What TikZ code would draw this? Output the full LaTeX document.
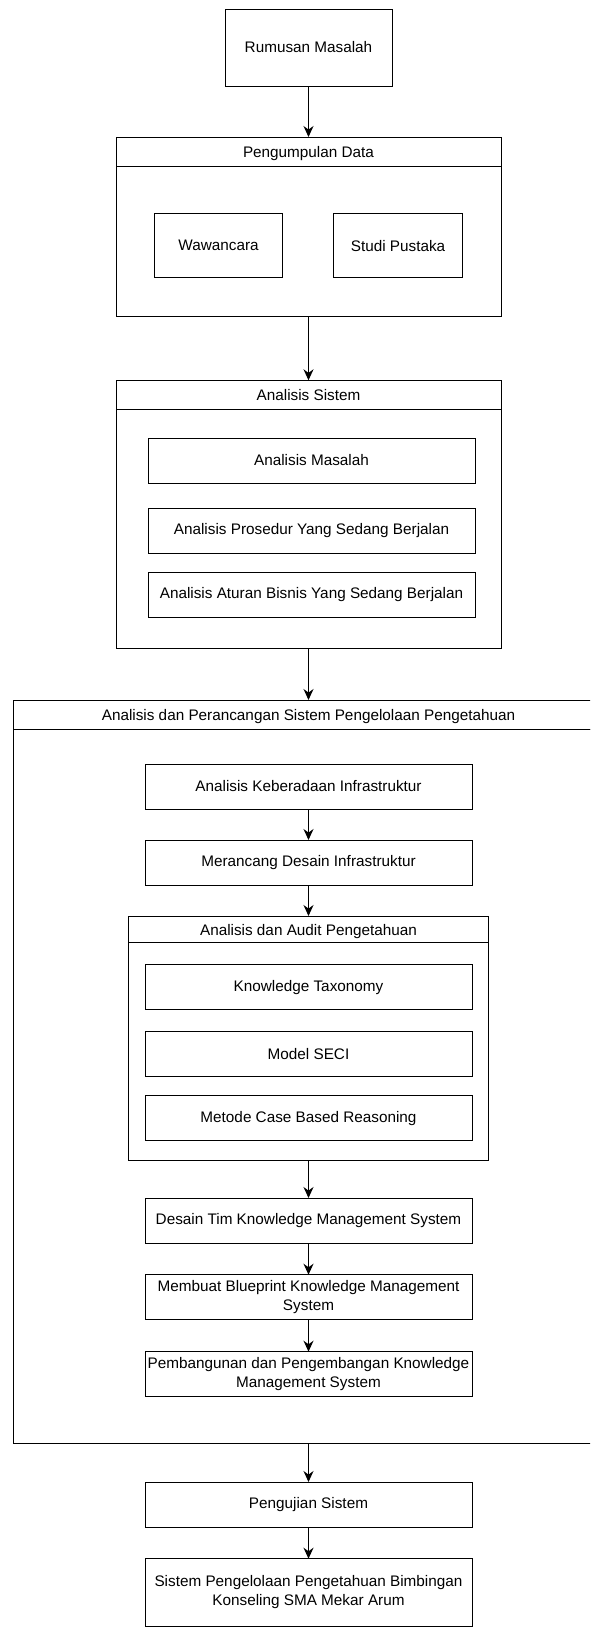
\documentclass[tikz,border=0pt]{standalone}
\usepackage{fontspec}
\setmainfont{Liberation Sans}
\usetikzlibrary{arrows.meta,positioning}

\begin{document}
\begin{tikzpicture}[x=1pt,y=1pt,font=\fontsize{15.3}{19}\selectfont,>={Stealth[length=11pt,width=10pt]},
 box/.style={draw,line width=1pt,outer sep=0pt,inner sep=1pt,align=center,minimum width=327pt,minimum height=45pt},
 head/.style={draw,line width=1pt,outer sep=0pt,inner sep=1pt,minimum height=29pt,text height=12pt,text depth=0pt},
 body/.style={draw,line width=1pt,outer sep=0pt,inner sep=0pt},flow/.style={->,line width=1.2pt}]
\useasboundingbox (0,0) rectangle (590,-1628);
\clip (0,0) rectangle (590,-1628);
\node[box,minimum width=167pt,minimum height=77pt] (rm) at (308.5,-47.5) {Rumusan Masalah};
\node[head,minimum width=385pt,below=51pt of rm] (pdh) {Pengumpulan Data};
\node[body,minimum width=385pt,minimum height=150pt,below=0pt of pdh] (pdb) {};
\node[box,minimum width=128.5pt,minimum height=64pt,below right=47.6pt and 38.3pt of pdb.north west] (wc) {Wawancara};
\node[box,minimum width=128.5pt,minimum height=64pt,right=51pt of wc] (sp) {Studi Pustaka};
\node[head,minimum width=385pt,below=64.3pt of pdb] (ash) {Analisis Sistem};
\node[body,minimum width=385pt,minimum height=239.3pt,below=0pt of ash] (asb) {};
\node[box,below=28.7pt of ash.south,xshift=3pt] (am) {Analisis Masalah};
\node[box,below=25.4pt of am] (ap) {Analisis Prosedur Yang Sedang Berjalan};
\node[box,below=19pt of ap] (aa) {Analisis Aturan Bisnis Yang Sedang Berjalan};
\node[head,minimum width=590.6pt,below=51.4pt of asb] (kmh) {Analisis dan Perancangan Sistem Pengelolaan Pengetahuan};
\node[body,minimum width=590.6pt,minimum height=714pt,below=0pt of kmh] (kmb) {};
\node[box,below=35pt of kmh.south] (ak) {Analisis Keberadaan Infrastruktur};
\node[box,below=31pt of ak] (md) {Merancang Desain Infrastruktur};
\node[head,minimum width=359.3pt,minimum height=26.3pt,below=31pt of md] (auh) {Analisis dan Audit Pengetahuan};
\node[body,minimum width=359.3pt,minimum height=217.7pt,below=0pt of auh] (aub) {};
\node[box,below=22.4pt of auh.south] (kt) {Knowledge Taxonomy};
\node[box,below=22pt of kt] (ms) {Model SECI};
\node[box,below=19pt of ms] (cbr) {Metode Case Based Reasoning};
\node[box,below=38pt of aub] (dt) {Desain Tim Knowledge Management System};
\node[box,below=31.7pt of dt] (bp) {Membuat Blueprint Knowledge Management\\System};
\node[box,below=32pt of bp] (pb) {Pembangunan dan Pengembangan Knowledge\\Management System};
\node[box,below=39pt of kmb] (uji) {Pengujian Sistem};
\node[box,minimum height=67.5pt,below=31.7pt of uji] (hasil) {Sistem Pengelolaan Pengetahuan Bimbingan\\Konseling SMA Mekar Arum};
\draw[flow] (rm)--(pdh);
\draw[flow] (pdb)--(ash);
\draw[flow] (asb)--(kmh);
\draw[flow] (ak)--(md);
\draw[flow] (md)--(auh);
\draw[flow] (aub)--(dt);
\draw[flow] (dt)--(bp);
\draw[flow] (bp)--(pb);
\draw[flow] (kmb)--(uji);
\draw[flow] (uji)--(hasil);
\end{tikzpicture}
\end{document}
